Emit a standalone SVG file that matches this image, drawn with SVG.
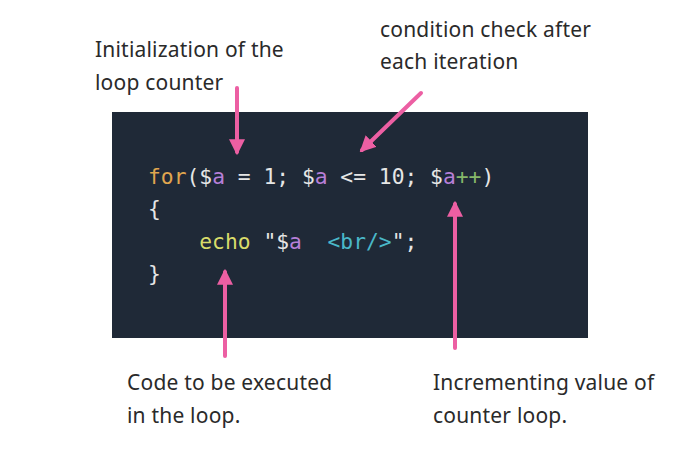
<svg xmlns="http://www.w3.org/2000/svg" width="700" height="450" viewBox="0 0 700 450">
<defs>
<style>
.lbl{font-family:"Noto Sans","Open Sans",sans-serif;font-size:21px;letter-spacing:0.2px;fill:#2a2a2a}
.code{font-family:"DejaVu Sans Mono","Liberation Mono",monospace;font-size:21.3px;fill:#e6e6e6}
.kw{fill:#e0a64f}.v{fill:#b77fd8}.op{fill:#86b86a}.tag{fill:#4ab8c9}.fn{fill:#d9dc6a}
.arr{stroke:#ec5fa3;stroke-width:4;stroke-linecap:round;fill:none}
</style>
<marker id="ah" viewBox="0 0 10 10" refX="8" refY="5" markerWidth="4" markerHeight="4" orient="auto" markerUnits="strokeWidth">
<path d="M0,0 L10,5 L0,10 z" fill="#ec5fa3"/>
</marker>
</defs>
<rect width="700" height="450" fill="#ffffff"/>
<g id="code-box">
<rect x="112" y="112" width="476" height="226" fill="#1f2937"/>
<text class="code" x="148" y="184"><tspan class="kw">for</tspan>($<tspan class="v">a</tspan> = 1; $<tspan class="v">a</tspan> &lt;= 10; $<tspan class="v">a</tspan><tspan class="op">++</tspan>)</text>
<text class="code" x="148" y="216">{</text>
<text class="code" x="148" y="249" xml:space="preserve">    <tspan class="fn">echo</tspan> "$<tspan class="v">a</tspan>  <tspan class="tag">&lt;br/&gt;</tspan>";</text>
<text class="code" x="148" y="281">}</text>
</g>
<g id="label-init">
<text class="lbl" x="95" y="57">Initialization of the</text>
<text class="lbl" x="95" y="90">loop counter</text>
</g>
<g id="label-cond">
<text class="lbl" x="380" y="37">condition check after</text>
<text class="lbl" x="380" y="69">each iteration</text>
</g>
<g id="label-body">
<text class="lbl" x="127" y="390">Code to be executed</text>
<text class="lbl" x="127" y="423">in the loop.</text>
</g>
<g id="label-inc">
<text class="lbl" x="433" y="390">Incrementing value of</text>
<text class="lbl" x="433" y="423">counter loop.</text>
</g>
<g id="connectors">
<line class="arr" x1="237" y1="88" x2="237" y2="152" marker-end="url(#ah)"/>
<line class="arr" x1="421" y1="93" x2="362" y2="150" marker-end="url(#ah)"/>
<line class="arr" x1="225" y1="356" x2="225" y2="272" marker-end="url(#ah)"/>
<line class="arr" x1="455" y1="348" x2="455" y2="204" marker-end="url(#ah)"/>
</g>
</svg>
